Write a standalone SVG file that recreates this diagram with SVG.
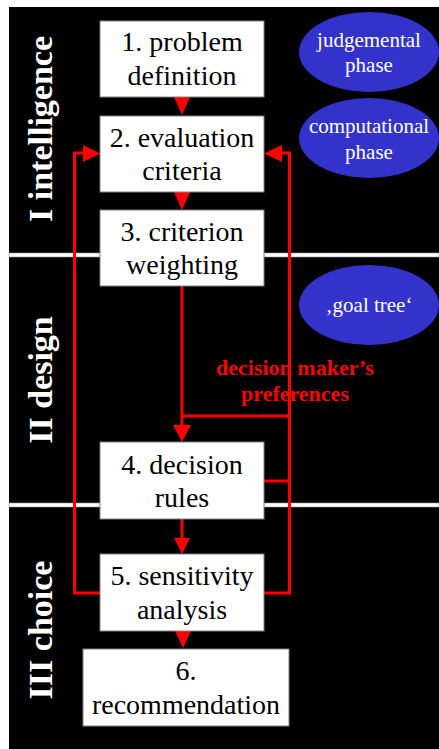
<svg xmlns="http://www.w3.org/2000/svg" width="439" height="749" viewBox="0 0 439 749">
<defs>
<style>
.box{fill:#fff;stroke:#808080;stroke-width:1}
.bt{font-family:"Liberation Serif","Times New Roman",serif;font-size:28px;fill:#000;text-anchor:middle}
.et{font-family:"Liberation Serif","Times New Roman",serif;font-size:21px;fill:#fff;text-anchor:middle}
.ell{fill:#3333CC}
.phase{font-family:"Liberation Serif","Times New Roman",serif;font-size:34px;font-weight:bold;fill:#fff;text-anchor:middle}
.red{stroke:#FF0000;stroke-width:3;fill:none}
.ah{fill:#FF0000}
.sep{fill:#fff;stroke:#999;stroke-width:0.6}
.pref{font-family:"Liberation Serif","Times New Roman",serif;font-size:22px;font-weight:bold;fill:#FF0000;text-anchor:middle}
</style>
</defs>
<rect x="0" y="0" width="439" height="749" fill="#fff"/>
<rect x="9" y="7" width="430" height="742" fill="#000"/>
<rect class="sep" x="9" y="253" width="430" height="4"/>
<rect class="sep" x="9" y="503" width="430" height="4"/>
<g id="phase-labels">
<text class="phase" transform="translate(52,129) rotate(-90)">I intelligence</text>
<text class="phase" transform="translate(52,380) rotate(-90)">II design</text>
<text class="phase" transform="translate(52,630) rotate(-90)">III choice</text>
</g>
<g id="connectors">
<polygon class="ah" points="174,97 190,97 182,115"/>
<polygon class="ah" points="174,192 190,192 182,210"/>
<line class="red" x1="182" y1="286" x2="182" y2="426"/>
<polygon class="ah" points="173,425 191,425 182,442"/>
<line class="red" x1="182" y1="416" x2="289.5" y2="416"/>
<line class="red" x1="264" y1="481" x2="289.5" y2="481"/>
<polyline class="red" points="264,593 289.5,593 289.5,153 281,153"/>
<polygon class="ah" points="282,145 282,162 264,153.5"/>
<polyline class="red" points="100,593 74.5,593 74.5,153 84,153"/>
<polygon class="ah" points="83,145 83,162 100,153.5"/>
<line class="red" x1="182" y1="519" x2="182" y2="539"/>
<polygon class="ah" points="174,538 190,538 182,554"/>
<polygon class="ah" points="175,631 191,631 183,648"/>
</g>
<g id="n1"><rect class="box" x="100" y="21" width="164" height="76"/><text class="bt" x="182" y="51">1. problem</text><text class="bt" x="182" y="85">definition</text></g>
<g id="n2"><rect class="box" x="100" y="116" width="164" height="76"/><text class="bt" x="182" y="147">2. evaluation</text><text class="bt" x="182" y="180">criteria</text></g>
<g id="n3"><rect class="box" x="100" y="210" width="164" height="76"/><text class="bt" x="182" y="241">3. criterion</text><text class="bt" x="182" y="274">weighting</text></g>
<g id="n4"><rect class="box" x="100" y="442" width="164" height="77"/><text class="bt" x="182" y="474">4. decision</text><text class="bt" x="182" y="507">rules</text></g>
<g id="n5"><rect class="box" x="100" y="554" width="164" height="77"/><text class="bt" x="182" y="585">5. sensitivity</text><text class="bt" x="182" y="619">analysis</text></g>
<g id="n6"><rect class="box" x="83" y="649" width="206" height="77"/><text class="bt" x="186" y="680">6.</text><text class="bt" x="186" y="714">recommendation</text></g>
<g id="e1"><ellipse class="ell" cx="369" cy="52" rx="70" ry="40"/><text class="et" x="369" y="47">judgemental</text><text class="et" x="369" y="72">phase</text></g>
<g id="e2"><ellipse class="ell" cx="369" cy="138" rx="70" ry="40"/><text class="et" x="369" y="133">computational</text><text class="et" x="369" y="159">phase</text></g>
<g id="e3"><ellipse class="ell" cx="369" cy="305" rx="70" ry="40"/><text class="et" x="369" y="312">‚goal tree‘</text></g>
<g id="preferences-label"><text class="pref" x="295" y="375">decision maker’s</text><text class="pref" x="295" y="401">preferences</text></g>
</svg>
